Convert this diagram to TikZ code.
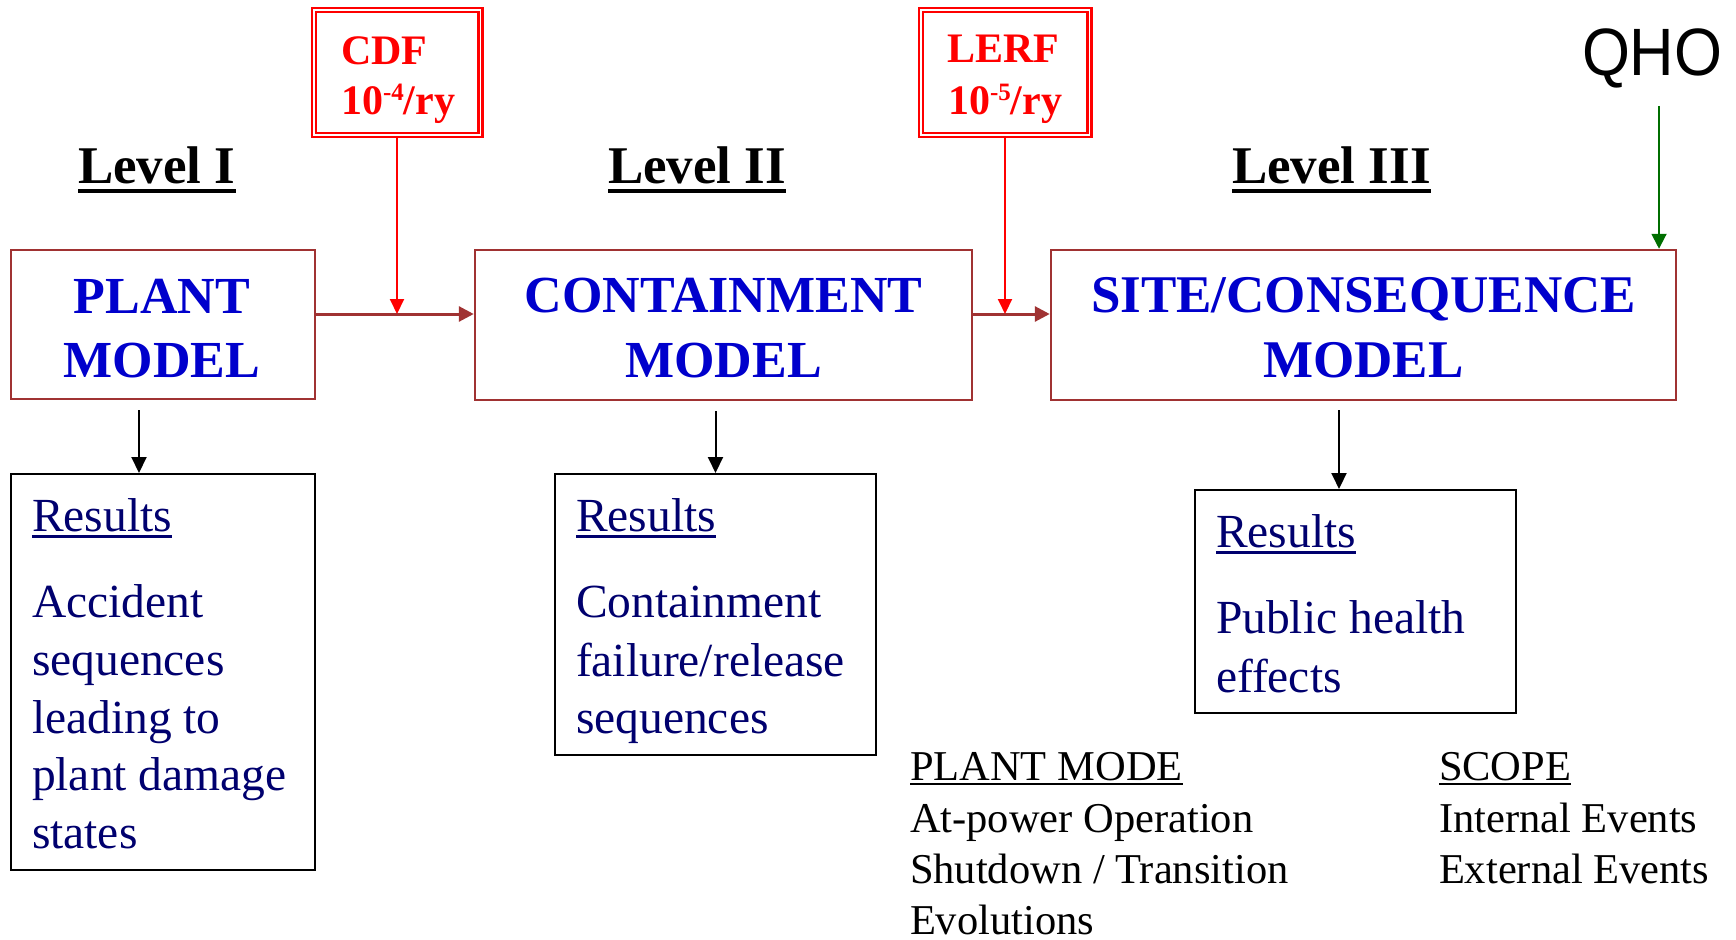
\documentclass[tikz,border=0pt]{standalone}
\usepackage{fontspec}
\setmainfont{Liberation Serif}
\newfontfamily\qhofont[FakeStretch=0.92]{Liberation Sans}
\usetikzlibrary{arrows.meta}
\definecolor{boxred}{RGB}{160,50,50}
\definecolor{modelblue}{RGB}{0,0,204}
\definecolor{navytext}{RGB}{0,0,110}
\definecolor{qgreen}{RGB}{0,110,0}
\newcommand{\myul}[3]{\setbox0\hbox{#1}\rlap{\rule[#2]{\wd0}{#3}}\box0}
\newcommand{\mysup}[1]{\raisebox{14pt}{\fontsize{25}{25}\selectfont #1}}
\begin{document}
\begin{tikzpicture}[x=1pt,y=-1pt,
  mainbox/.style={draw=boxred, line width=2.5pt, rectangle, inner sep=0pt},
  resbox/.style={draw=black, line width=2pt, rectangle, inner sep=0pt},
  critbox/.style={draw=red, line width=2.5pt, double=white, double distance=1.5pt, rectangle, inner sep=0pt},
  txt/.style={inner sep=0pt, outer sep=0pt, anchor=base west},
  ctxt/.style={inner sep=0pt, outer sep=0pt, anchor=base},
  lvl/.style={txt, font=\bfseries\fontsize{53}{60}\selectfont},
  model/.style={ctxt, text=modelblue, font=\bfseries\fontsize{52}{64}\selectfont},
  sitemodel/.style={ctxt, text=modelblue, font=\bfseries\fontsize{53}{64}\selectfont},
  crittxt/.style={txt, text=red, font=\bfseries\fontsize{42}{50}\selectfont},
  restxt/.style={txt, text=navytext, font=\fontsize{47.5}{58}\selectfont},
  modetxt/.style={txt, font=\fontsize{42.5}{52}\selectfont},
  flow/.style={draw=boxred, line width=3pt, -{Triangle[length=15pt,width=15pt]}},
  crit/.style={draw=red, line width=2pt, -{Triangle[length=15pt,width=14pt]}},
  downarrow/.style={draw=black, line width=2pt, -{Triangle[length=16pt,width=15pt]}},
  qarrow/.style={draw=qgreen, line width=2pt, -{Triangle[length=15pt,width=15pt]}}
]
\useasboundingbox (0,0) rectangle (1736,939);

% main model boxes
\node[mainbox, minimum width=304, minimum height=149] (plant) at (163,324.5) {};
\node[mainbox, minimum width=497, minimum height=150] (cont) at (723.5,325) {};
\node[mainbox, minimum width=625, minimum height=150] (site) at (1363.5,325) {};

\node[model] (plantA) at (162,313) {PLANT};
\node[model] (plantB) at (162,377) {MODEL};
\node[model] (contA) at (723.5,312) {CONTAINMENT};
\node[model] (contB) at (723.5,377) {MODEL};
\node[sitemodel] (siteA) at (1363.5,312) {SITE/CONSEQUENCE};
\node[sitemodel] (siteB) at (1363.5,377) {MODEL};

% level headers
\node[lvl] (lvlI) at (78,183) {\myul{Level I}{-10pt}{4pt}};
\node[lvl] (lvlII) at (608,183) {\myul{Level II}{-10pt}{4pt}};
\node[lvl] (lvlIII) at (1232,183) {\myul{Level III}{-10pt}{4pt}};

% criteria boxes
\node[critbox, minimum width=166.5, minimum height=124.5] (cdf) at (397,72.5) {};
\node[critbox, minimum width=168.5, minimum height=124.5] (lerf) at (1005,72.5) {};
\node[crittxt] (cdfA) at (341,65) {CDF};
\node[crittxt] (cdfB) at (341,115) {10\mysup{-4}/ry};
\node[crittxt] (lerfA) at (947,63) {LERF};
\node[crittxt] (lerfB) at (948,115) {10\mysup{-5}/ry};

% QHO
\node[txt, font=\qhofont\fontsize{67}{67}\selectfont] (qho) at (1582,76) {QHO};
\coordinate (q1) at (1659,106);
\draw[qarrow] (q1) -- (q1 |- site.north);

% flow arrows
\draw[flow] (plant.east |- 0,314) -- (cont.west |- 0,314);
\draw[flow] (cont.east |- 0,314) -- (site.west |- 0,314);
\draw[crit] (cdf.south) -- (cdf.south |- 0,314);
\draw[crit] (lerf.south) -- (lerf.south |- 0,314);

% results boxes
\node[resbox, minimum width=304, minimum height=396] (r1) at (163,672) {};
\node[resbox, minimum width=321, minimum height=281] (r2) at (715.5,614.5) {};
\node[resbox, minimum width=321, minimum height=223] (r3) at (1355.5,601.5) {};

\coordinate (d1) at (139,400);
\draw[downarrow, shorten <=10pt] (d1) -- (d1 |- r1.north);
\draw[downarrow, shorten <=10pt] (r2.north |- cont.south) -- (r2.north);
\coordinate (d3) at (1339,400);
\draw[downarrow, shorten <=10pt] (d3) -- (d3 |- r3.north);

\node[restxt] (r1h) at (32,531) {\myul{Results}{-7pt}{3pt}};
\node[restxt] (r1a) at (32,617) {Accident};
\node[restxt] (r1b) at (32,675) {sequences};
\node[restxt] (r1c) at (32,733) {leading to};
\node[restxt] (r1d) at (32,790) {plant damage};
\node[restxt] (r1e) at (32,848) {states};

\node[restxt] (r2h) at (576,531) {\myul{Results}{-7pt}{3pt}};
\node[restxt] (r2a) at (576,617) {Containment};
\node[restxt] (r2b) at (576,676) {failure/release};
\node[restxt] (r2c) at (576,733) {sequences};

\node[restxt] (r3h) at (1216,547) {\myul{Results}{-7pt}{3pt}};
\node[restxt] (r3a) at (1216,633) {Public health};
\node[restxt] (r3b) at (1216,692) {effects};

% plant mode / scope
\node[modetxt] (pm) at (910,780) {\myul{PLANT MODE}{-5pt}{2.5pt}};
\node[modetxt] (pm1) at (910,832) {At-power Operation};
\node[modetxt] (pm2) at (910,883) {Shutdown / Transition};
\node[modetxt] (pm3) at (910,934) {Evolutions};
\node[modetxt] (sc) at (1439,780) {\myul{SCOPE}{-5pt}{2.5pt}};
\node[modetxt] (sc1) at (1439,832) {Internal Events};
\node[modetxt] (sc2) at (1439,883) {External Events};
\end{tikzpicture}
\end{document}
